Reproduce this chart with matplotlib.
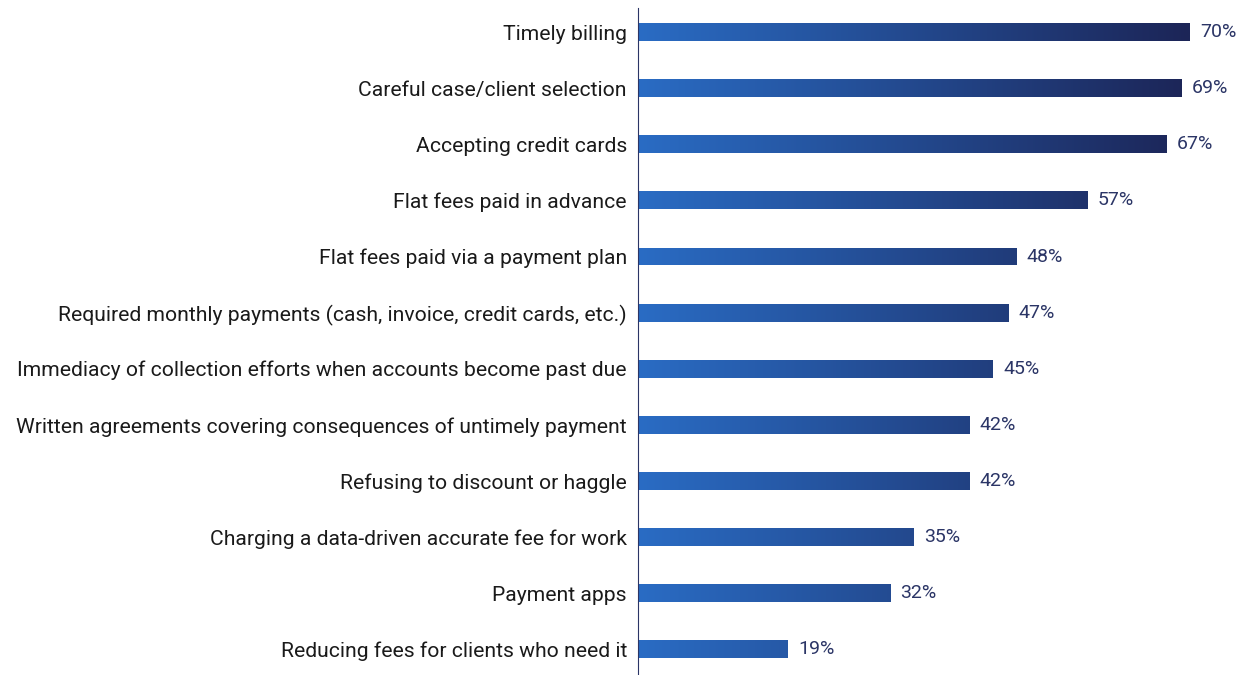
import matplotlib.pyplot as plt
import numpy as np
from matplotlib.colors import LinearSegmentedColormap

labels = [
    'Timely billing',
    'Careful case/client selection',
    'Accepting credit cards',
    'Flat fees paid in advance',
    'Flat fees paid via a payment plan',
    'Required monthly payments (cash, invoice, credit cards, etc.)',
    'Immediacy of collection efforts when accounts become past due',
    'Written agreements covering consequences of untimely payment',
    'Refusing to discount or haggle',
    'Charging a data-driven accurate fee for work',
    'Payment apps',
    'Reducing fees for clients who need it',
]
values = [70, 69, 67, 57, 48, 47, 45, 42, 42, 35, 32, 19]

plt.rcParams['font.family'] = ['Roboto', 'DejaVu Sans']

fig = plt.figure(figsize=(12.49, 6.75), dpi=100)
ax = fig.add_axes([638 / 1249, 0, 1 - 638 / 1249, 1 - 8 / 675])

# one shared left-to-right gradient, clipped to each bar
cmap = LinearSegmentedColormap.from_list('bluegrad', ['#2a6cc4', '#1c2557'])
grad = np.linspace(0, 1, 256).reshape(1, -1)

n = len(values)
ypos = np.arange(n)[::-1]
bars = ax.barh(ypos, values, height=0.32, color='none', edgecolor='none')
for bar, v, y in zip(bars, values, ypos):
    im = ax.imshow(grad, cmap=cmap, aspect='auto',
                   extent=[0, 70, y - 0.16, y + 0.16], zorder=2)
    im.set_clip_path(bar)
    ax.text(v + 1.3, y, f'{v}%', va='center', ha='left',
            fontsize=14, color='#2b3566')

ax.set_xlim(0, 77.5)
ax.set_ylim(-0.46, n - 1 + 0.43)
ax.set_yticks(ypos)
ax.set_yticklabels(labels, fontsize=15.2, color='#1a1a1a')
ax.tick_params(axis='y', length=0, pad=8)
ax.set_xticks([])
for s in ['top', 'right', 'bottom']:
    ax.spines[s].set_visible(False)
ax.spines['left'].set_color('#2b3566')
ax.spines['left'].set_linewidth(0.8)

fig.savefig('out.png', dpi=100)
